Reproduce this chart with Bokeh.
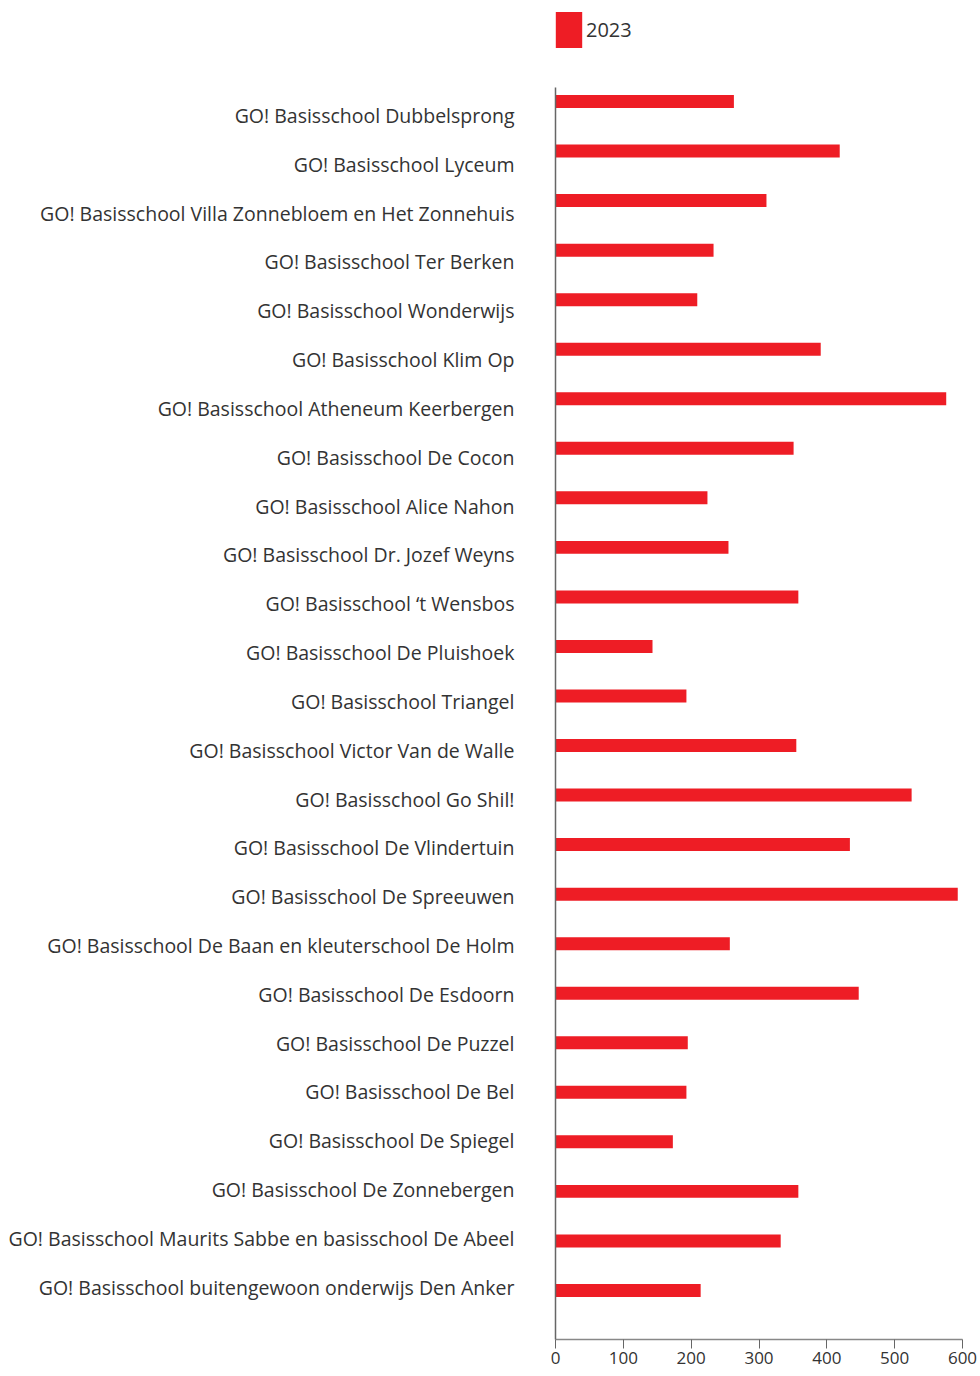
from bokeh.plotting import figure
from bokeh.layouts import column
from bokeh.models import (Range1d, LinearAxis, FixedTicker, Legend, LegendItem,
                          ColumnDataSource)
from bokeh.embed import file_html
from bokeh.resources import INLINE

schools = [
    "GO! Basisschool Dubbelsprong",
    "GO! Basisschool Lyceum",
    "GO! Basisschool Villa Zonnebloem en Het Zonnehuis",
    "GO! Basisschool Ter Berken",
    "GO! Basisschool Wonderwijs",
    "GO! Basisschool Klim Op",
    "GO! Basisschool Atheneum Keerbergen",
    "GO! Basisschool De Cocon",
    "GO! Basisschool Alice Nahon",
    "GO! Basisschool Dr. Jozef Weyns",
    "GO! Basisschool \u2018t Wensbos",
    "GO! Basisschool De Pluishoek",
    "GO! Basisschool Triangel",
    "GO! Basisschool Victor Van de Walle",
    "GO! Basisschool Go Shil!",
    "GO! Basisschool De Vlindertuin",
    "GO! Basisschool De Spreeuwen",
    "GO! Basisschool De Baan en kleuterschool De Holm",
    "GO! Basisschool De Esdoorn",
    "GO! Basisschool De Puzzel",
    "GO! Basisschool De Bel",
    "GO! Basisschool De Spiegel",
    "GO! Basisschool De Zonnebergen",
    "GO! Basisschool Maurits Sabbe en basisschool De Abeel",
    "GO! Basisschool buitengewoon onderwijs Den Anker",
]
values_2023 = [263, 419, 311, 233, 209, 391, 576, 351, 224, 255, 358, 143, 193,
               355, 525, 434, 593, 257, 447, 195, 193, 173, 358, 332, 214]
x_ticks = [0, 100, 200, 300, 400, 500, 600]
series_name = "2023"

n = len(schools)
idx = list(range(n))
src = ColumnDataSource(dict(y=idx, v=values_2023, name=schools))

RED = "#ee1d25"
FONT = "Open Sans"

WIDTH = 978
LEFT = 555
RIGHT = 16
TOP_H = 87            # height of the legend strip
FRAME_BOTTOM = 1339   # page y of the x axis line
TOTAL_H = 1374

# ---- legend strip -------------------------------------------------------
# the series is repeated here as a hidden renderer; only its legend entry shows
pl = figure(width=WIDTH, height=TOP_H, x_range=Range1d(0, 600),
            y_range=Range1d(-3, -2),
            output_backend="svg", toolbar_location=None,
            x_axis_location=None, y_axis_location=None,
            min_border_left=LEFT, min_border_right=RIGHT,
            min_border_top=0, min_border_bottom=0)
pl.outline_line_color = None
pl.xgrid.visible = False
pl.ygrid.visible = False
leg_r = pl.hbar(y="y", right="v", left=0, height=0.262, source=src,
                fill_color=RED, line_color=None)
leg_r.visible = False
GW, GH = 33, 45   # legend glyph box (area glyph is drawn at 80 % of it)
legend = Legend(items=[LegendItem(label=series_name, renderers=[leg_r])],
                location=(-3, TOP_H - 52), orientation="horizontal",
                glyph_width=GW, glyph_height=GH, label_standoff=1,
                padding=0, margin=0, spacing=0,
                label_text_font=FONT, label_text_font_size="20px",
                label_text_color="#333333", border_line_color=None,
                background_fill_alpha=0, inactive_fill_alpha=0)
pl.add_layout(legend, "center")

# ---- main chart ---------------------------------------------------------
p = figure(width=WIDTH, height=TOTAL_H - TOP_H,
           x_range=Range1d(0, 600),
           y_range=Range1d(start=24.99, end=-0.283),
           output_backend="svg", toolbar_location=None,
           y_axis_location=None, x_axis_location="below",
           min_border_left=LEFT, min_border_right=RIGHT,
           min_border_top=0, min_border_bottom=TOTAL_H - FRAME_BOTTOM)
p.outline_line_color = None
p.xgrid.visible = False
p.ygrid.visible = False

bars = p.hbar(y="y", right="v", left=0, height=0.262, source=src,
              fill_color=RED, line_color=None)

# category label axis
p.extra_y_ranges = {"lab": Range1d(start=25.07, end=-0.573)}
yax = LinearAxis(y_range_name="lab")
yax.ticker = FixedTicker(ticks=idx)
yax.major_label_overrides = {i: s for i, s in zip(idx, schools)}
yax.major_tick_line_color = None
yax.minor_tick_line_color = None
yax.major_tick_out = 0
yax.major_label_standoff = 41
yax.major_label_text_font = FONT
yax.major_label_text_font_size = "19.5px"
yax.major_label_text_color = "#333333"
yax.axis_line_color = "#666666"
yax.axis_line_width = 1.5
p.add_layout(yax, "left")

xax = p.xaxis[0]
xax.ticker = FixedTicker(ticks=x_ticks)
xax.minor_tick_line_color = None
xax.major_tick_in = 0
xax.major_tick_out = 9
xax.major_tick_line_color = "#666666"
xax.axis_line_color = "#888888"
xax.axis_line_width = 1.5
xax.major_label_standoff = 3
xax.major_label_text_font = FONT
xax.major_label_text_font_size = "17px"
xax.major_label_text_color = "#333333"

layout = column(pl, p, spacing=0)
open("out.html", "w").write(file_html(layout, INLINE))
